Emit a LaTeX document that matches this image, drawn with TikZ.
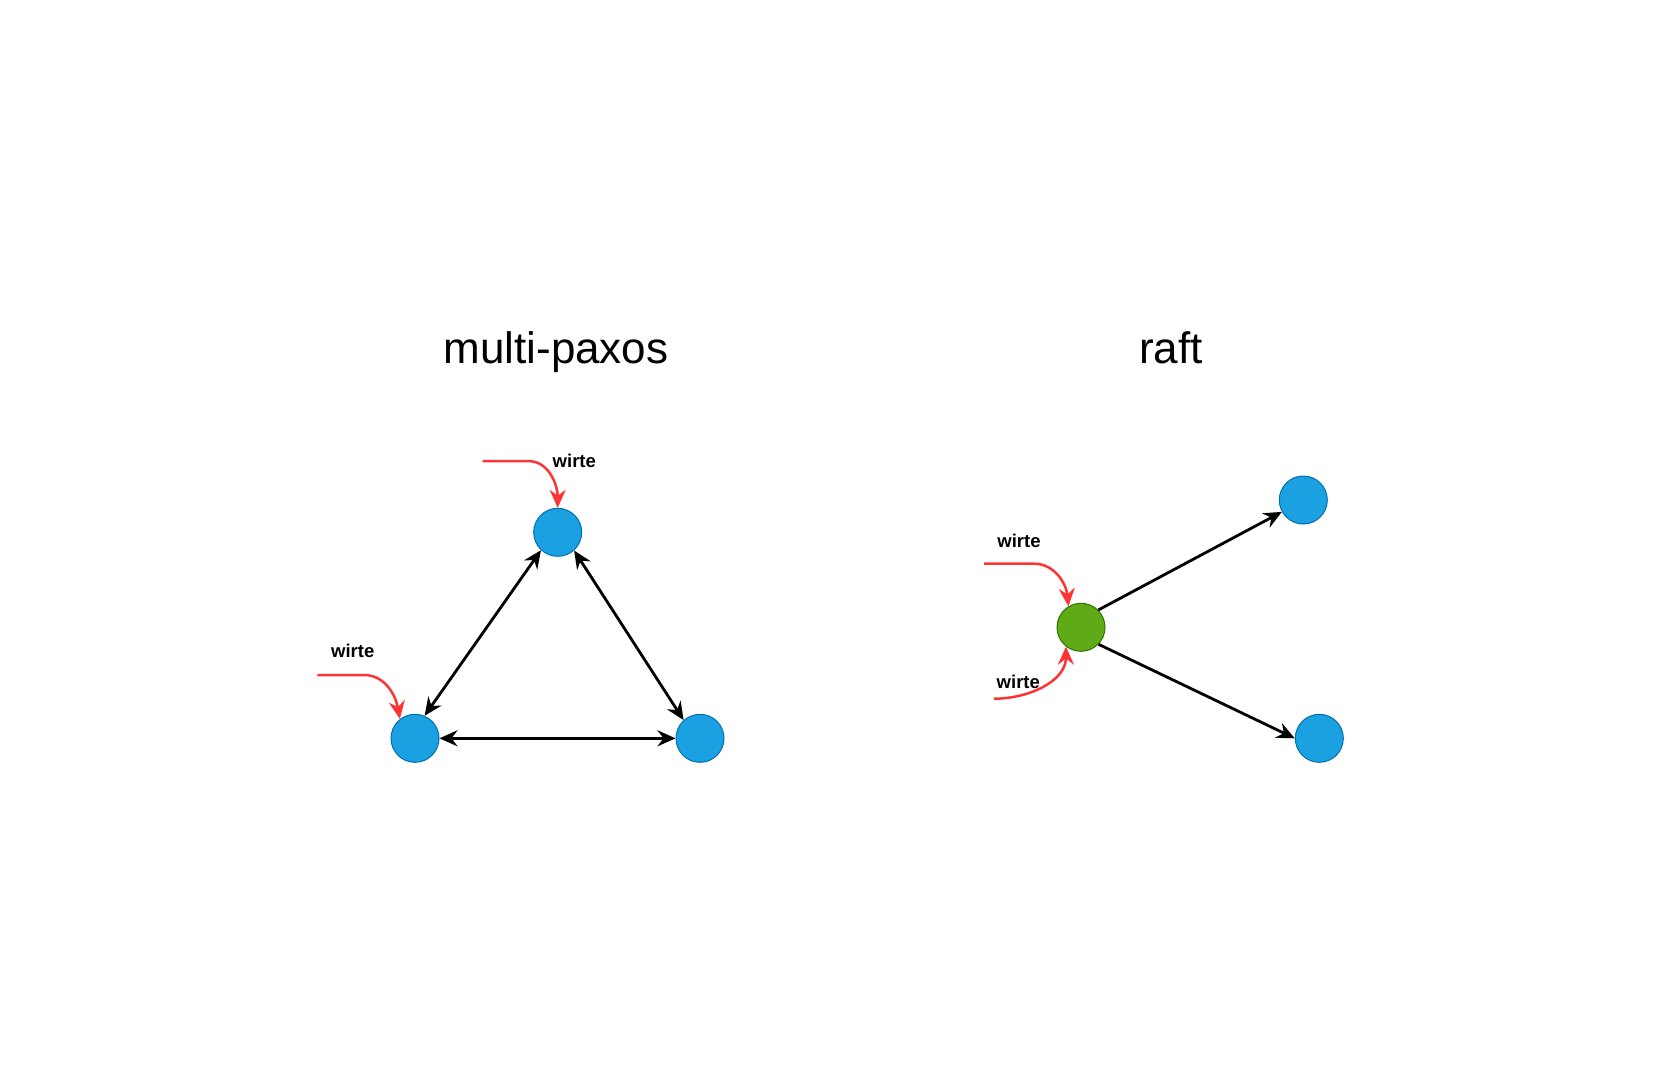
\documentclass[tikz,border=0pt]{standalone}
\usepackage{fontspec}
\setmainfont{Liberation Sans}
\usetikzlibrary{arrows.meta}
\definecolor{nodeblue}{HTML}{1BA1E2}
\definecolor{nodeblueline}{HTML}{006EAF}
\definecolor{nodegreen}{HTML}{60A917}
\definecolor{nodegreenline}{HTML}{2D7600}
\definecolor{wred}{HTML}{FF3333}
\tikzset{
  bluenode/.style={circle, fill=nodeblue, draw=nodeblueline, line width=1pt, minimum size=48pt, inner sep=0pt},
  greennode/.style={circle, fill=nodegreen, draw=nodegreenline, line width=1pt, minimum size=48pt, inner sep=0pt},
  tip/.style={Stealth[length=18pt,width=16pt,inset=6pt]},
  link/.style={line width=2.8pt, black, -{Stealth[length=18pt,width=16pt,inset=6pt]}},
  dlink/.style={line width=2.8pt, black, {Stealth[length=18pt,width=16pt,inset=6pt]}-{Stealth[length=18pt,width=16pt,inset=6pt]}},
  wlink/.style={line width=2.5pt, wred, -{Stealth[length=18pt,width=16pt,inset=6pt]}},
  title/.style={font=\fontsize{44}{50}\selectfont, anchor=base},
  wlabel/.style={font=\fontsize{18.5}{22}\selectfont\bfseries},
}
\begin{document}
\begin{tikzpicture}[x=1pt,y=-1pt]
\useasboundingbox (0,0) rectangle (1662,1080);
% titles
\node[title] (t1) at (556,363) {multi-paxos};
\node[title] (t2) at (1171,363) {raft};
% multi-paxos nodes
\node[bluenode] (top) at (557.7,532.3) {};
\node[bluenode] (bl) at (415,738.3) {};
\node[bluenode] (br) at (700,738.3) {};
\draw[dlink] (top.227) -- (bl.67);
\draw[dlink] (top.312) -- (br.132);
\draw[dlink] (bl.east) -- (br.west);
% red writes multi-paxos
\coordinate (w1s) at (482.7,461);
\coordinate (w1m) at (528,461);
\draw[wlink] (w1s) -- (w1m) to[out=0,in=90] (top.north);
\node[wlabel] (l1) at (574.3,460.7) {wirte};
\coordinate (w2s) at (317.3,675);
\coordinate (w2m) at (364,675);
\draw[wlink] (w2s) -- (w2m) to[out=0,in=100] (bl.128);
\node[wlabel] (l2) at (352.7,650.7) {wirte};
% raft nodes
\node[greennode] (g) at (1081,627.3) {};
\node[bluenode] (tr) at (1303.3,500) {};
\node[bluenode] (rr) at (1319.3,738.3) {};
\draw[link] (g.45) -- (tr.209);
\draw[link] (g.-44) -- (rr.west);
% red writes raft
\coordinate (w3s) at (984,563.7);
\coordinate (w3m) at (1034,563.7);
\draw[wlink] (w3s) -- (w3m) to[out=0,in=95] (g.121);
\node[wlabel] (l3) at (1019,540.7) {wirte};
\coordinate (w4s) at (994,698.7);
\draw[wlink] (w4s) to[out=0,in=-90] (g.232);
\node[wlabel] (l4) at (1018.3,682.3) {wirte};
\end{tikzpicture}
\end{document}
